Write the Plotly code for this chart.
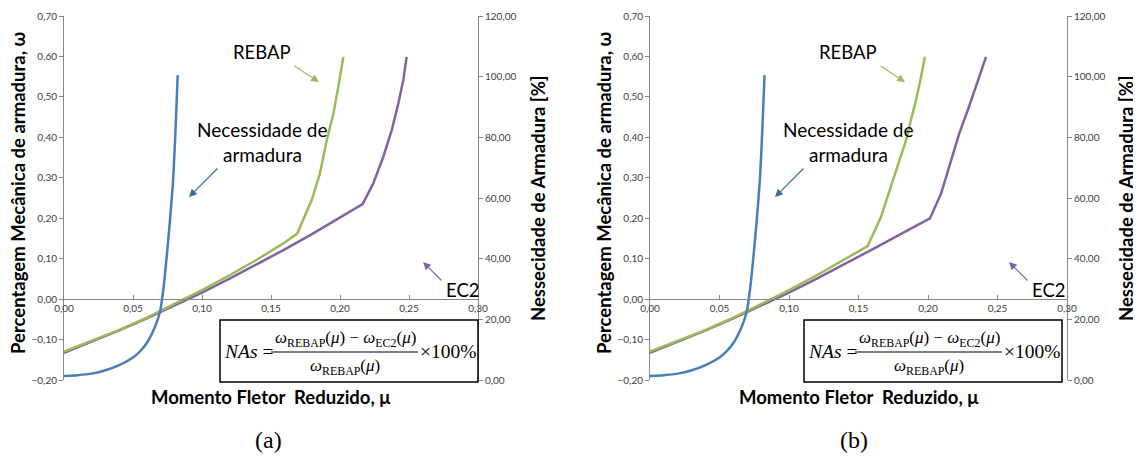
import plotly.graph_objects as go

# page has an 8px body margin: the figure is sized to fill the rest of the window
OFF = 8
W, H = 1141 - OFF, 457 - OFF

# ---------------- data ----------------
# Panel (a)
mu_rebap_a = [0, 0.02, 0.04, 0.06, 0.08, 0.10, 0.12, 0.14, 0.16, 0.169,
              0.1795, 0.1855, 0.1904, 0.1952, 0.1988, 0.2024]
w_rebap_a = [-0.130, -0.104, -0.076, -0.046, -0.013, 0.022, 0.059, 0.098, 0.140, 0.162,
             0.245, 0.311, 0.393, 0.459, 0.525, 0.599]
mu_ec2_a = [0, 0.02, 0.04, 0.06, 0.08, 0.10, 0.12, 0.14, 0.16, 0.18, 0.20, 0.2164,
            0.2241, 0.2314, 0.2375, 0.2423, 0.2459, 0.2483]
w_ec2_a = [-0.133, -0.106, -0.0775, -0.0476, -0.0163, 0.0163, 0.0505, 0.0861, 0.123, 0.1613,
           0.2012, 0.235, 0.286, 0.352, 0.418, 0.484, 0.542, 0.599]

# Panel (b)
mu_rebap_b = [0, 0.02, 0.04, 0.06, 0.08, 0.10, 0.12, 0.14, 0.1566,
              0.1662, 0.1734, 0.1794, 0.1842, 0.1883, 0.1914, 0.1950, 0.1978]
w_rebap_b = [-0.130, -0.104, -0.076, -0.046, -0.013, 0.022, 0.059, 0.098, 0.131,
             0.2035, 0.278, 0.344, 0.393, 0.451, 0.492, 0.550, 0.599]
mu_ec2_b = [0, 0.02, 0.04, 0.06, 0.08, 0.10, 0.12, 0.14, 0.16, 0.18, 0.2014,
            0.2094, 0.2165, 0.2225, 0.2286, 0.2333, 0.2381, 0.2417]
w_ec2_b = [-0.133, -0.106, -0.0775, -0.0476, -0.0163, 0.0163, 0.0505, 0.0861, 0.123, 0.160, 0.1995,
           0.261, 0.344, 0.410, 0.467, 0.517, 0.562, 0.599]

# Necessidade de armadura [%] (same in both panels)
mu_nas = [0, 0.01, 0.02, 0.03, 0.04, 0.05, 0.055, 0.06, 0.0659, 0.0696,
          0.0720, 0.0745, 0.0768, 0.0792, 0.0809, 0.0824]
nas = [1.3, 1.6, 2.1, 3.2, 4.9, 7.4, 9.4, 12.2, 17.5, 22.5,
       30.0, 41.0, 52.7, 67.0, 83.5, 100.5]

labels_panel = ["(a)", "(b)"]
title_left = "Percentagem Mecânica de armadura, ω"
title_right = "Nessecidade de Armadura [%]"
title_x = "Momento Fletor  Reduzido, μ"

# ---------------- styling ----------------
C_BLUE = "#4a7ebb"
C_GREEN = "#9bbb59"
C_PURPLE = "#8064a2"
C_BLUE_ARROW = "#3b6aa0"
AX = "#868686"
TXT = "#404040"
FONT = "Lato"
SERIF = "Liberation Serif"


def px(x):
    return (x - OFF) / W


def py(y):
    return 1 - (y - OFF) / H


YDOM = [py(380), py(16)]
YMIN, YMAX = -0.2, 0.7
xpos = YDOM[0] + (0 - YMIN) / (YMAX - YMIN) * (YDOM[1] - YDOM[0])

panels = [
    dict(x0=64, x1=478, mu_r=mu_rebap_a, w_r=w_rebap_a, mu_e=mu_ec2_a, w_e=w_ec2_a),
    dict(x0=650, x1=1067, mu_r=mu_rebap_b, w_r=w_rebap_b, mu_e=mu_ec2_b, w_e=w_ec2_b),
]

fig = go.Figure()
layout = dict(
    width=W, height=H, margin=dict(l=0, r=0, t=0, b=0, pad=0, autoexpand=False),
    paper_bgcolor="white", plot_bgcolor="white",
    separators=",.", showlegend=False,
    font=dict(family=FONT, color=TXT),
)
annotations = []
shapes = []


def text(x, y, s, size, family=FONT, color="black", angle=0, xanchor="center"):
    annotations.append(dict(x=px(x), y=py(y), xref="paper", yref="paper", text=s,
                            textangle=angle, showarrow=False, xanchor=xanchor,
                            yanchor="middle", font=dict(size=size, color=color, family=family)))


def arrow(hx, hy, tx, ty, color):
    annotations.append(dict(x=px(hx), y=py(hy), xref="paper", yref="paper", text="",
                            showarrow=True, axref="pixel", ayref="pixel",
                            ax=tx - hx, ay=ty - hy, arrowhead=2,
                            arrowsize=1.3, arrowwidth=1.2, arrowcolor=color))


for i, p in enumerate(panels):
    xa = "x" if i == 0 else "x2"
    ya = "y" if i == 0 else "y3"
    yb = "y2" if i == 0 else "y4"
    xk = "xaxis" if i == 0 else "xaxis2"
    yk = "yaxis" if i == 0 else "yaxis3"
    y2k = "yaxis2" if i == 0 else "yaxis4"

    fig.add_trace(go.Scatter(x=p["mu_e"], y=p["w_e"], xaxis=xa, yaxis=ya, mode="lines",
                             line=dict(color=C_PURPLE, width=2.5), name="EC2"))
    fig.add_trace(go.Scatter(x=p["mu_r"], y=p["w_r"], xaxis=xa, yaxis=ya, mode="lines",
                             line=dict(color=C_GREEN, width=2.5), name="REBAP"))
    fig.add_trace(go.Scatter(x=mu_nas, y=nas, xaxis=xa, yaxis=yb, mode="lines",
                             line=dict(color=C_BLUE, width=2.5, shape="spline", smoothing=0.6),
                             name="NAs"))

    tf = dict(size=10, color=TXT, family=FONT)
    layout[xk] = dict(domain=[px(p["x0"]), px(p["x1"])], range=[0, 0.30],
                      anchor="free", position=xpos, dtick=0.05, tickformat=".2f",
                      showline=True, linecolor=AX, linewidth=1, ticks="inside",
                      ticklen=4, tickcolor=AX, showgrid=False, zeroline=False,
                      automargin=False, tickfont=tf)
    layout[yk] = dict(domain=YDOM, range=[YMIN, YMAX], anchor=xa, dtick=0.1,
                      tickformat=".2f", showline=True, linecolor=AX, linewidth=1,
                      ticks="outside", ticklen=4, tickcolor=AX, showgrid=False,
                      zeroline=False, automargin=False, tickfont=tf)
    layout[y2k] = dict(overlaying=ya, side="right", anchor=xa, range=[0, 120], dtick=20,
                       tickformat=".2f", showline=True, linecolor=AX, linewidth=1,
                       ticks="outside", ticklen=4, tickcolor=AX, showgrid=False,
                       zeroline=False, automargin=False, tickfont=tf)

    s = 586 if i else 0
    cx = (p["x0"] + p["x1"]) / 2

    # axis titles
    text(18 + s, 193, "<b>" + title_left + "</b>", 18.5, angle=-90)
    text(538 + s + (2 if i else 0), 198, "<b>" + title_right + "</b>", 18.5, angle=-90)
    text(cx, 397, "<b>" + title_x + "</b>", 18.5)
    text(267 + s + 1, 440, labels_panel[i], 24, family=SERIF)

    # series labels
    text(261 + s + 1, 52, "REBAP", 18.5)
    text(261 + s + 1, 129, "Necessidade de", 19)
    text(261 + s + 1, 154, "armadura", 19)
    text(460 + s + 3, 290, "EC2", 18.5)

    # arrows
    arrow(319 + s, 82, 293 + s, 65, C_GREEN)
    arrow(189 + s, 197, 219 + s, 167, C_BLUE_ARROW)
    arrow(423 + s, 262, 443 + s, 282, C_PURPLE)

    # formula box
    bl = 220 + (584 if i else 0)
    br = bl + 258
    shapes.append(dict(type="rect", xref="paper", yref="paper", x0=px(bl), x1=px(br),
                       y0=py(382), y1=py(320), line=dict(color="black", width=1.5),
                       fillcolor="white", layer="above"))
    shapes.append(dict(type="line", xref="paper", yref="paper", x0=px(bl + 51), x1=px(bl + 198),
                       y0=py(352), y1=py(352), line=dict(color="black", width=1), layer="above"))
    text(bl + 2, 351, "<i>NAs</i> =", 19.5, family=SERIF, xanchor="left")
    text(bl + 125, 339,
         "<i>ω</i><sub>REBAP</sub>(<i>μ</i>) − <i>ω</i><sub>EC2</sub>(<i>μ</i>)",
         17, family=SERIF)
    text(bl + 125, 367, "<i>ω</i><sub>REBAP</sub>(<i>μ</i>)", 17, family=SERIF)
    text(bl + 198, 351, "×100%", 19.5, family=SERIF, xanchor="left")

layout["annotations"] = annotations
layout["shapes"] = shapes
fig.update_layout(**layout)
fig.write_html("out.html")
